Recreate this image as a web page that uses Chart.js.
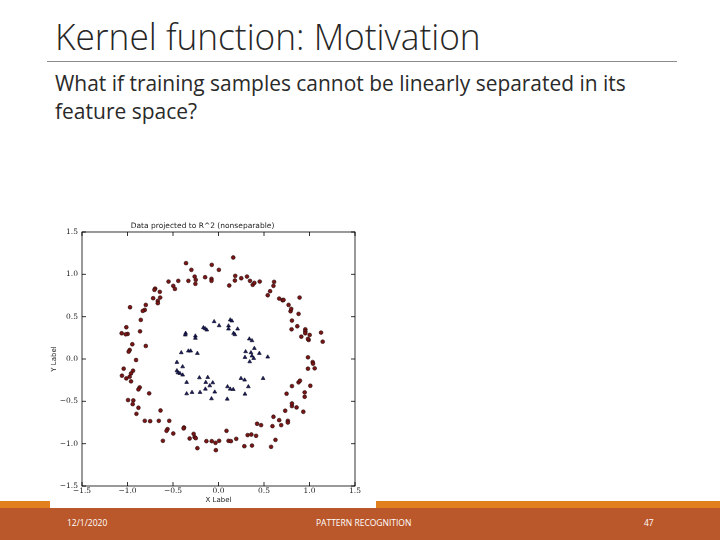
<!DOCTYPE html>
<html>
<head>
<meta charset="utf-8">
<script src="https://cdn.jsdelivr.net/npm/chart.js@4.4.1/dist/chart.umd.min.js"></script>
<style>
  html, body { margin: 0; padding: 0; }
  body { width: 720px; height: 540px; position: relative; overflow: hidden; background: #fff;
         font-family: "Open Sans", "Lato", sans-serif; color: #262626; }
  #title { position: absolute; left: 55px; top: 12px; font-size: 36px; font-weight: 300;
           white-space: nowrap; transform-origin: 0 0; font-family: "Open Sans", sans-serif; }
  #rule { position: absolute; left: 47px; top: 61px; width: 630px; height: 1px; background: #8c8c8c; }
  .body { position: absolute; left: 55px; font-size: 21px; white-space: nowrap; transform-origin: 0 0; color: #2a2a2a; }
  #stripe { position: absolute; left: 0; top: 501px; width: 720px; height: 7px; background: #e2801f; }
  #band { position: absolute; left: 0; top: 508px; width: 720px; height: 32px; background: #bb582b; }
  .foot { position: absolute; top: 517px; font-size: 8.5px; color: #fff; white-space: nowrap; }
  #imgbox { position: absolute; left: 50px; top: 215px; width: 326px; height: 293px; background: #fff; }
  #chart { position: absolute; left: 0; top: 0; }
</style>
</head>
<body>
<div id="title">Kernel function: Motivation</div>
<div id="rule"></div>
<div class="body" id="line1" style="top:69px">What if training samples cannot be linearly separated in its</div>
<div class="body" id="line2" style="top:97px">feature space?</div>
<div id="stripe"></div>
<div id="band"></div>
<div class="foot" style="left:67px">12/1/2020</div>
<div class="foot" style="left:316px">PATTERN RECOGNITION</div>
<div class="foot" style="left:644px">47</div>
<div id="imgbox"><canvas id="chart" width="326" height="293"></canvas></div>
<script>
// outer ring (red circles)
const outerX = [0.162, -0.357, -0.074, -0.298, 0.004, -0.549, -0.442, -0.331, -0.262, -0.250, -0.254, -0.147, -0.077, -0.077,
  0.118, 0.184, 0.180, 0.250, 0.313, 0.346, 0.376, 0.394, 0.453, 0.611, 0.604, 0.567, 0.541, -0.497, -0.479, -0.696,
  -0.704, -0.645, -0.641, -0.667, -0.667, -0.718, -0.799, -0.810, -0.832, -0.972, -0.854, -0.862, -0.799, -1.013, -0.998,
  -1.064, -1.020, -0.947, -0.976, -0.987, -0.906, -1.042, -0.939, -0.961, -1.061, -1.013, -0.976, -0.961, -0.866, -0.880,
  -0.762, -0.994, -0.936, -0.943, -0.880, -0.902, -0.810, -0.751, -0.637, -0.656, -0.541, -0.560, -0.571, -0.497, -0.611,
  -0.379, -0.383, -0.317, -0.273, -0.262, -0.250, -0.232, -0.133, -0.074, -0.033, -0.029, 0.007, 0.088, 0.110, 0.136,
  0.195, 0.284, 0.320, 0.361, 0.368, 0.413, 0.424, 0.468, 0.578, 0.626, 0.593, 0.604, 0.667, 0.689, 0.762, 0.762, 0.733,
  0.807, 0.807, 0.858, 0.932, 0.748, 0.807, 0.880, 0.895, 0.947, 0.947, 1.009, 0.983, 0.983, 1.035, 1.039, 1.057, 0.910,
  0.954, 0.954, 0.954, 1.002, 0.991, 0.983, 1.127, 1.145, 0.866, 0.803, 0.807, 0.880, 0.792, 0.799, 0.770, 0.704, 0.715,
  0.667, 0.891];
const outerY = [1.199, 1.132, 1.112, 1.053, 1.053, 0.915, 0.923, 0.923, 0.974, 0.935, 0.888, 0.966, 0.947, 0.923,
  0.868, 0.982, 0.927, 0.954, 0.974, 0.923, 0.876, 0.899, 0.915, 0.911, 0.864, 0.801, 0.753, 0.864, 0.828, 0.832,
  0.817, 0.793, 0.726, 0.686, 0.659, 0.718, 0.639, 0.580, 0.568, 0.611, 0.462, 0.327, 0.154, 0.375, 0.296,
  0.304, 0.292, 0.174, 0.107, 0.087, -0.012, -0.114, -0.138, -0.170, -0.197, -0.229, -0.209, -0.264, -0.335, -0.359,
  -0.406, -0.485, -0.489, -0.533, -0.576, -0.647, -0.730, -0.734, -0.608, -0.730, -0.730, -0.828, -0.848, -0.880, -0.966,
  -0.809, -0.820, -0.939, -0.884, -0.923, -0.935, -1.053, -0.970, -0.970, -0.990, -1.077, -0.966, -0.848, -0.966, -0.970,
  -0.943, -1.030, -0.899, -0.892, -1.022, -0.907, -0.765, -0.781, -1.037, -0.955, -0.793, -0.682, -0.722, -0.781, -0.730, -0.750, -0.611,
  -0.556, -0.525, -0.572, -0.623, -0.410, -0.320, -0.276, -0.256, -0.394, -0.446, -0.316, 0.020, -0.114, -0.036, -0.055, -0.110, 0.264,
  0.351, 0.327, 0.304, 0.284, 0.225, 0.237, 0.312, 0.205, 0.387, 0.351, 0.454, 0.533, 0.564, 0.592, 0.639, 0.694, 0.698,
  0.714, 0.726];
// inner ring (blue triangles)
const innerX = [-0.048, 0.007, 0.129, 0.147, 0.110, 0.110, 0.210, 0.166, 0.180, -0.166, -0.147, -0.129, -0.361, -0.365,
  -0.254, -0.254, -0.409, -0.331, -0.306, -0.232, 0.339, 0.368, 0.298, 0.394, 0.357, 0.368, 0.387, 0.291, 0.343, 0.449,
  0.541, 0.490, -0.457, -0.394, -0.457, -0.424, -0.394, -0.446, -0.350, -0.350, -0.291, -0.210, -0.118, -0.140, -0.096,
  -0.203, -0.144, -0.041, -0.077, 0.096, 0.099, 0.129, 0.162, 0.247, 0.287, 0.328, 0.291, -0.063];
const innerY = [0.442, 0.394, 0.462, 0.450, 0.391, 0.355, 0.355, 0.304, 0.288, 0.371, 0.359, 0.343, 0.304, 0.284,
  0.272, 0.245, 0.075, 0.095, 0.095, 0.067, 0.237, 0.217, 0.087, 0.126, 0.075, 0.036, 0.008, 0.020, -0.032, 0.067,
  0.024, -0.229, -0.039, -0.091, -0.138, -0.170, -0.189, -0.162, -0.276, -0.410, -0.394, -0.221, -0.217, -0.276, -0.316,
  -0.394, -0.355, -0.390, -0.469, -0.473, -0.327, -0.355, -0.359, -0.229, -0.248, -0.327, -0.414, -0.280];
const tickValues = [-1.5, -1.0, -0.5, 0.0, 0.5, 1.0, 1.5];

// squeeze slide text to the widths seen in the picture
function fitWidth(id, w) {
  const el = document.getElementById(id);
  el.style.transform = 'scaleX(' + (w / el.offsetWidth) + ')';
}
fitWidth('title', 426);
fitWidth('line1', 571);
fitWidth('line2', 142);

function toPts(xs, ys) {
  return xs.map((x, i) => ({x: x, y: ys[i]}));
}

function fmt(v) {
  return (v < 0 ? '\u2212' : '') + Math.abs(v).toFixed(1);
}

// matplotlib style: frame plus inward ticks on all four sides
const frameTicks = {
  id: 'frameTicks',
  afterDraw(chart) {
    const ctx = chart.ctx, a = chart.chartArea;
    const sx = chart.scales.x, sy = chart.scales.y;
    ctx.save();
    ctx.strokeStyle = '#000';
    ctx.lineWidth = 0.8;
    ctx.strokeRect(a.left, a.top, a.right - a.left, a.bottom - a.top);
    ctx.beginPath();
    tickValues.forEach(v => {
      const px = sx.getPixelForValue(v), py = sy.getPixelForValue(v);
      ctx.moveTo(px, a.bottom); ctx.lineTo(px, a.bottom - 4);
      ctx.moveTo(px, a.top); ctx.lineTo(px, a.top + 4);
      ctx.moveTo(a.left, py); ctx.lineTo(a.left + 4, py);
      ctx.moveTo(a.right, py); ctx.lineTo(a.right - 4, py);
    });
    ctx.stroke();
    ctx.restore();
  }
};

new Chart(document.getElementById('chart'), {
  type: 'scatter',
  data: {
    datasets: [{
      label: 'outer',
      data: toPts(outerX, outerY),
      pointStyle: 'circle',
      pointRadius: 1.9,
      backgroundColor: '#7c1616',
      borderColor: '#220606',
      borderWidth: 0.6
    }, {
      label: 'inner',
      data: toPts(innerX, innerY),
      pointStyle: 'triangle',
      pointRadius: 2.2,
      backgroundColor: '#1a1a62',
      borderColor: '#05051a',
      borderWidth: 0.6
    }]
  },
  options: {
    responsive: false,
    animation: false,
    layout: { padding: { right: 21, top: 0, left: 0, bottom: 0 } },
    plugins: {
      legend: { display: false },
      tooltip: { enabled: false },
      title: {
        display: true,
        text: 'Data projected to R^2 (nonseparable)',
        color: '#222',
        font: { family: 'DejaVu Sans', size: 7.5, weight: 'normal', lineHeight: 1.2 },
        padding: { top: 7, bottom: 1 }
      }
    },
    scales: {
      x: {
        type: 'linear', min: -1.5, max: 1.5,
        afterBuildTicks: s => { s.ticks = tickValues.map(v => ({value: v})); },
        afterFit: s => { s.height = 22; },
        grid: { display: false, drawTicks: false },
        border: { display: false },
        ticks: { color: '#222', padding: 1, font: { family: 'DejaVu Serif', size: 7.5 }, callback: fmt, maxRotation: 0, autoSkip: false },
        title: { display: true, text: 'X Label', color: '#222', padding: { top: 0, bottom: 4 }, font: { family: 'DejaVu Sans', size: 7 } }
      },
      y: {
        type: 'linear', min: -1.5, max: 1.5,
        afterBuildTicks: s => { s.ticks = tickValues.map(v => ({value: v})); },
        afterFit: s => { s.width = 32; },
        grid: { display: false, drawTicks: false },
        border: { display: false },
        ticks: { color: '#222', padding: 4, font: { family: 'DejaVu Serif', size: 7.5 }, callback: fmt, autoSkip: false },
        title: { display: true, text: 'Y Label', color: '#222', padding: { top: 0, bottom: 0 }, font: { family: 'DejaVu Sans', size: 7 } }
      }
    }
  },
  plugins: [frameTicks]
});
</script>
</body>
</html>
